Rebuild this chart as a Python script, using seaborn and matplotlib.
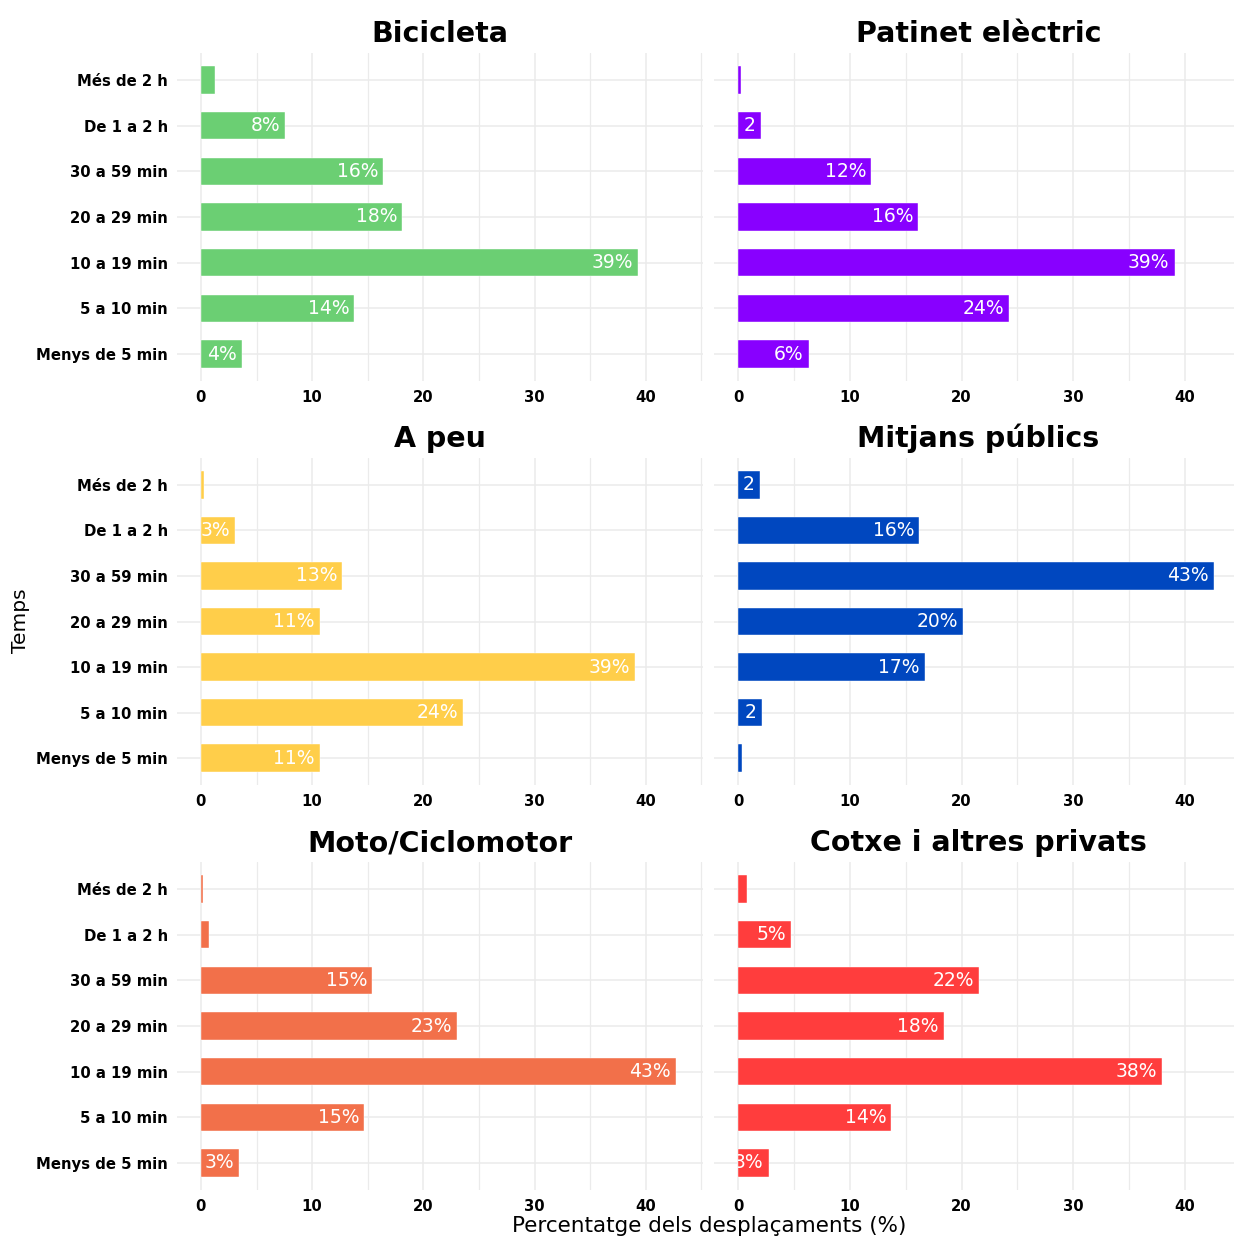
import matplotlib
matplotlib.use("Agg")
import matplotlib.pyplot as plt
import pandas as pd
import seaborn as sns

# Travel-time categories, top to bottom
temps = ["Més de 2 h", "De 1 a 2 h", "30 a 59 min", "20 a 29 min",
         "10 a 19 min", "5 a 10 min", "Menys de 5 min"]

modes = ["Bicicleta", "Patinet elèctric", "A peu", "Mitjans públics",
         "Moto/Ciclomotor", "Cotxe i altres privats"]

# Share of trips (%) per travel-time band, same order as `temps`
bicicleta = [1.3, 7.6, 16.4, 18.1, 39.3, 13.8, 3.7]
patinet = [0.2, 2.0, 11.9, 16.1, 39.1, 24.3, 6.3]
a_peu = [0.3, 3.1, 12.7, 10.7, 39.0, 23.6, 10.7]
mitjans = [1.9, 16.2, 42.6, 20.1, 16.7, 2.1, 0.3]
moto = [0.2, 0.7, 15.4, 23.0, 42.7, 14.7, 3.4]
cotxe = [0.8, 4.7, 21.6, 18.4, 38.0, 13.7, 2.7]

colors = ["#6BCF73", "#8800FF", "#FFCE4A", "#0047BF", "#F2704A", "#FF3D3D"]

x_ticks = [0, 10, 20, 30, 40]

series = [bicicleta, patinet, a_peu, mitjans, moto, cotxe]
df = pd.concat(
    [pd.DataFrame({"mode": m, "temps": temps, "pct": v}) for m, v in zip(modes, series)],
    ignore_index=True,
)

sns.set_theme(style="white")
plt.rcParams["font.family"] = ["DejaVu Sans"]

W, H = 1234, 1239
fig = plt.figure(figsize=(W / 100, H / 100), dpi=100)


def frac_box(x0, x1, y0, y1):
    return [x0 / W, 1 - y1 / H, (x1 - x0) / W, (y1 - y0) / H]


cols = [(177, 703), (714.5, 1242)]
rows = [(52.6, 381.4), (457.6, 785.4), (861.6, 1190.4)]
grid_col = "#EBEBEB"


def bar_label(v):
    r = int(round(v))
    if v < 1.5:
        return ""
    if r < 3:
        return str(r)
    return f"{r}%"


for k, (mode, color) in enumerate(zip(modes, colors)):
    r, c = divmod(k, 2)
    ax = fig.add_axes(frac_box(cols[c][0], cols[c][1], rows[r][0], rows[r][1]))
    sub = df[df["mode"] == mode]
    sns.barplot(data=sub, x="pct", y="temps", order=temps, color=color,
                saturation=1, width=0.6, orient="h", errorbar=None,
                edgecolor="white", linewidth=0.3, ax=ax, zorder=2)
    ax.set_xlim(-2.15, 45.15)
    ax.set_ylim(6.6, -0.6)
    ax.set_xticks(x_ticks)
    ax.set_xticks([5, 15, 25, 35, 45], minor=True)
    ax.grid(True, which="major", axis="both", color=grid_col, lw=1.1, zorder=0)
    ax.grid(True, which="minor", axis="x", color=grid_col, lw=0.9, zorder=0)
    ax.set_axisbelow(True)
    for s in ax.spines.values():
        s.set_visible(False)
    ax.tick_params(axis="both", which="both", length=0)
    ax.tick_params(axis="x", pad=6)
    ax.tick_params(axis="y", pad=6.5)
    ax.set_xticklabels([str(t) for t in x_ticks], fontsize=10.7, fontweight="bold", color="black")
    if c == 0:
        ax.set_yticklabels(temps, fontsize=10.7, fontweight="bold", color="black")
    else:
        ax.set_yticklabels([])
    ax.set_xlabel("")
    ax.set_ylabel("")
    ax.set_title(mode, fontsize=20.5, fontweight="bold", color="black", pad=7.5)

    # White value labels inside the bar end, clipped to the bar itself
    for patch in ax.patches:
        yc = patch.get_y() + patch.get_height() / 2
        idx = int(round(yc))
        v = sub["pct"].iloc[idx]
        lab = bar_label(v)
        if not lab:
            continue
        t = ax.annotate(lab, (v, idx), xytext=(-3.6, 0), textcoords="offset points",
                        ha="right", va="center", color="white", fontsize=13.5, zorder=3)
        t.set_clip_path(patch)
        t.set_clip_on(True)

fig.text(709.5 / W, 1 - 1226 / H, "Percentatge dels desplaçaments (%)",
         ha="center", va="center", fontsize=15.5, color="black")
fig.text(20 / W, 1 - 621 / H, "Temps", ha="center", va="center",
         rotation=90, fontsize=14.5, color="black")

fig.savefig("out.png", dpi=100, facecolor="white")
